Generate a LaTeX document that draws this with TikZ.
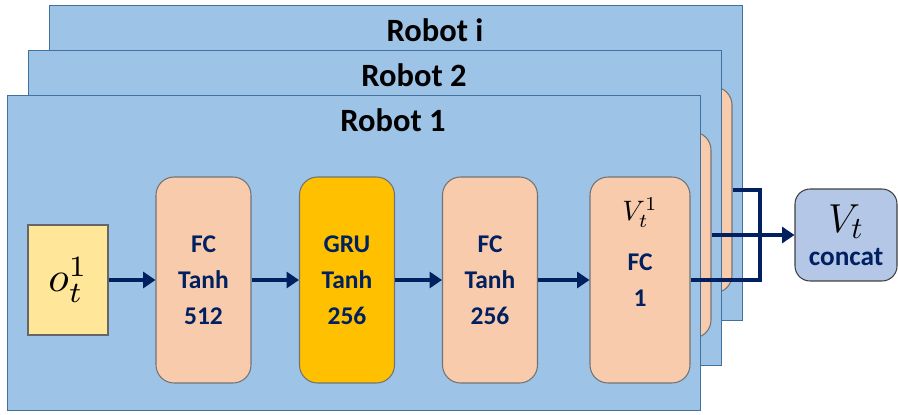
\documentclass[tikz,border=0pt]{standalone}
\usepackage{fontspec}
\setmainfont{Carlito}
\usetikzlibrary{arrows.meta}

\definecolor{panelblue}{HTML}{9DC3E6}
\definecolor{panelline}{HTML}{41719C}
\definecolor{peach}{HTML}{F8CBAD}
\definecolor{gold}{HTML}{FFC000}
\definecolor{obsyellow}{HTML}{FFE699}
\definecolor{navy}{HTML}{002060}
\definecolor{concatblue}{HTML}{B4C7E7}

\begin{document}
\begin{tikzpicture}[x=0.02cm,y=-0.02cm,
    panel/.style={draw=panelline,fill=panelblue,line width=0.5pt,minimum width=13.86cm,minimum height=6.3cm},
    title/.style={font=\fontsize{18.5}{20}\selectfont\bfseries},
    layer/.style={draw=black!55,fill=peach,line width=0.6pt,rounded corners=0.36cm,minimum width=1.9cm,minimum height=4.12cm,align=center,text=navy,font=\fontsize{14.5}{20.4}\selectfont\bfseries},
    flow/.style={navy,line width=2.2pt,-{Triangle[length=7pt,width=9pt]}},
    wire/.style={navy,line width=2.2pt}]
\useasboundingbox (0,0) rectangle (898,415);

% back panels: only their value heads stick out
\foreach \r/\k in {2/i,1/2}{
  \begin{scope}[shift={(21*\r,-45*\r)}]
    \node[panel] (panel-\k) at (353.5,252.5) {};
    \node[title] (title-\k) at (393,120) {Robot \k};
    \node[layer,minimum width=2cm] (val-\k) at (640,280) {};
  \end{scope}
}

% front panel
\node[panel] (panel-1) at (353.5,252.5) {};
\node[title] (title-1) at (393,120) {Robot 1};
\node[draw=black!60,fill=obsyellow,line width=0.6pt,minimum width=1.6cm,minimum height=2.2cm] (obs-1) at (68,280) {\scalebox{2.4}{$o_t^1$}};
\node[layer] (fc1-1) at (203.5,280) {FC\\Tanh\\512};
\node[layer,fill=gold] (gru-1) at (347,280) {GRU\\Tanh\\256};
\node[layer] (fc2-1) at (490,280) {FC\\Tanh\\256};
\node[layer,minimum width=2cm,label={[anchor=center,yshift=-0.72cm,text=black]north:\scalebox{1.6}{$V_t^1$}}] (val-1) at (640,280) {FC\\1};
\draw[flow] (obs-1) -- (fc1-1);
\draw[flow] (fc1-1) -- (gru-1);
\draw[flow] (gru-1) -- (fc2-1);
\draw[flow] (fc2-1) -- (val-1);

% joining the value heads
\node[draw=black!75,fill=concatblue,line width=0.6pt,rounded corners=0.3cm,minimum width=2.04cm,minimum height=1.84cm,align=center,font=\fontsize{15.5}{19}\selectfont\bfseries] (concat) at (846,235) {\scalebox{1.6}{$V_t$}\\\textcolor{navy}{concat}};
\coordinate (join) at (760,235);
\draw[wire] (val-i.east) -| (join) |- (val-1.east);
\draw[flow] (val-2.east) -- (concat.west);
\end{tikzpicture}
\end{document}
